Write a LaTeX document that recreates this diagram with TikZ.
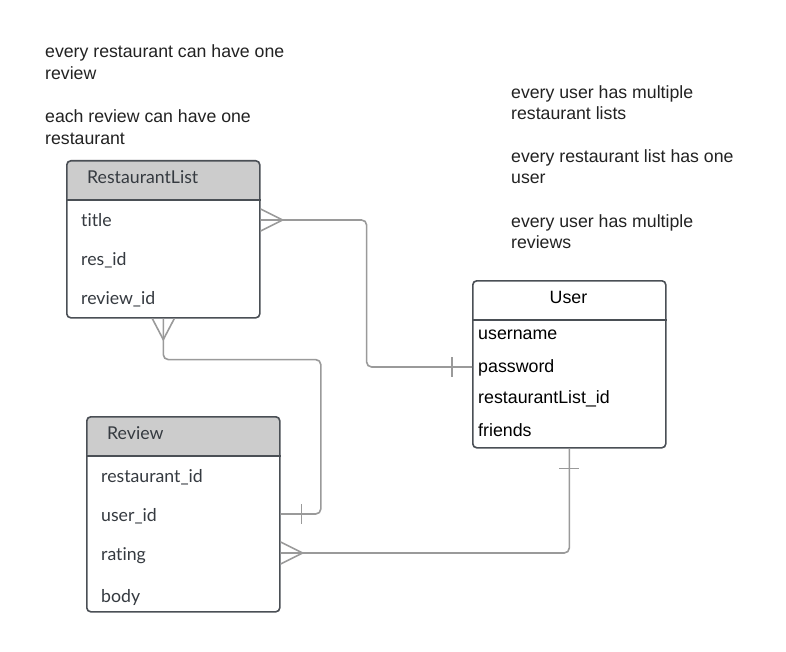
\documentclass[tikz,border=0pt]{standalone}
\usepackage{fontspec}
\setmainfont{Liberation Sans}
\newfontfamily\tblfont[Ligatures={NoCommon,NoRare,NoDiscretionary}]{Lato}
\definecolor{bordc}{HTML}{4A4F55}
\definecolor{hdrc}{HTML}{CCCCCC}
\definecolor{linec}{HTML}{9A9A9A}
\definecolor{tblc}{HTML}{353A40}
\definecolor{notec}{HTML}{222222}
\begin{document}
\begin{tikzpicture}[x=1pt,y=-1pt,
  tbl/.style={draw=bordc,line width=1.6pt,rounded corners=4pt,fill=white,
    minimum width=193pt,inner sep=0pt,anchor=north west},
  grey header/.style={path picture={\fill[hdrc] (path picture bounding box.north west) rectangle ([yshift=-40pt]path picture bounding box.north east);}},
  hline/.style={draw=bordc,line width=1.6pt},
  field/.style={anchor=base west,inner sep=0pt,text=tblc,font=\tblfont\fontsize{17.7}{20}\selectfont},
  ufield/.style={anchor=base west,inner sep=0pt,text=black,font=\fontsize{17.8}{20}\selectfont},
  note/.style={anchor=base west,inner sep=0pt,text=notec,font=\fontsize{17.7}{20}\selectfont},
  conn/.style={draw=linec,line width=1.6pt,rounded corners=5pt},
  mark line/.style={draw=linec,line width=1.6pt}]
\useasboundingbox[fill=white] (0,0) rectangle (786,652);

% notes
\node[note] (n1) at (45,58) {every restaurant can have one};
\node[note] (n2) at (45,80) {review};
\node[note] (n3) at (45,123) {each review can have one};
\node[note] (n4) at (45,145) {restaurant};
\node[note] (n5) at (511,99) {every user has multiple};
\node[note] (n6) at (511,120) {restaurant lists};
\node[note] (n7) at (511,163) {every restaurant list has one};
\node[note] (n8) at (511,184) {user};
\node[note] (n9) at (511,227) {every user has multiple};
\node[note] (n10) at (511,248) {reviews};

% RestaurantList
\node[tbl,grey header,minimum height=157pt] (rl) at (66,160) {};
\draw[hline] ([yshift=-40pt]rl.north west) -- ([yshift=-40pt]rl.north east);
\node[field] (rlh) at (87,184) {RestaurantList};
\node[field] (rltitle) at (81,226) {title};
\node[field] (rlres) at (81,265) {res\_id};
\node[field] (rlrev) at (81,304) {review\_id};

% Review
\node[tbl,grey header,minimum height=195pt] (rv) at (86,416) {};
\draw[hline] ([yshift=-40pt]rv.north west) -- ([yshift=-40pt]rv.north east);
\node[field] (rvh) at (107,439) {Review};
\node[field] (rvrest) at (101,482) {restaurant\_id};
\node[field] (rvuser) at (101,521) {user\_id};
\node[field] (rvrating) at (101,560) {rating};
\node[field] (rvbody) at (101,602) {body};

% User
\node[tbl,minimum height=167pt] (u) at (472,280) {};
\draw[hline] ([yshift=-40pt]u.north west) -- ([yshift=-40pt]u.north east);
\node[ufield,anchor=base] (uh) at (568.5,303) {User};
\node[ufield] (uname) at (478,339) {username};
\node[ufield] (upass) at (478,372) {password};
\node[ufield] (url) at (478,403) {restaurantList\_id};
\node[ufield] (ufr) at (478,436) {friends};

% coordinates on edges
\coordinate (a1) at (rl.east |- 0,220);
\coordinate (a2) at (u.west |- 0,367);
\coordinate (b2) at (rv.east |- 0,514);
\coordinate (c2) at (rv.east |- 0,553);

% RestaurantList.title  >--|  User.password
\draw[conn] (a1) -- ++(106,0) |- (a2);
\draw[mark line] ([yshift=11pt]a1) -- ([xshift=22pt]a1) -- ([yshift=-11pt]a1);
\draw[mark line] ([xshift=-20pt,yshift=10pt]a2) -- ([xshift=-20pt,yshift=-10pt]a2);

% RestaurantList bottom  >--|  Review.user_id
\draw[conn] (rl.south) -- ++(0,41) -- ++(157.5,0) |- (b2);
\draw[mark line] ([xshift=-11pt]rl.south) -- ([yshift=-21pt]rl.south) -- ([xshift=11pt]rl.south);
\draw[mark line] ([xshift=21pt,yshift=10pt]b2) -- ([xshift=21pt,yshift=-10pt]b2);

% User bottom  |--<  Review.rating
\draw[conn] (u.south) |- (c2);
\draw[mark line] ([xshift=-10pt,yshift=-20pt]u.south) -- ([xshift=10pt,yshift=-20pt]u.south);
\draw[mark line] ([yshift=11pt]c2) -- ([xshift=22pt]c2) -- ([yshift=-11pt]c2);
\end{tikzpicture}
\end{document}
